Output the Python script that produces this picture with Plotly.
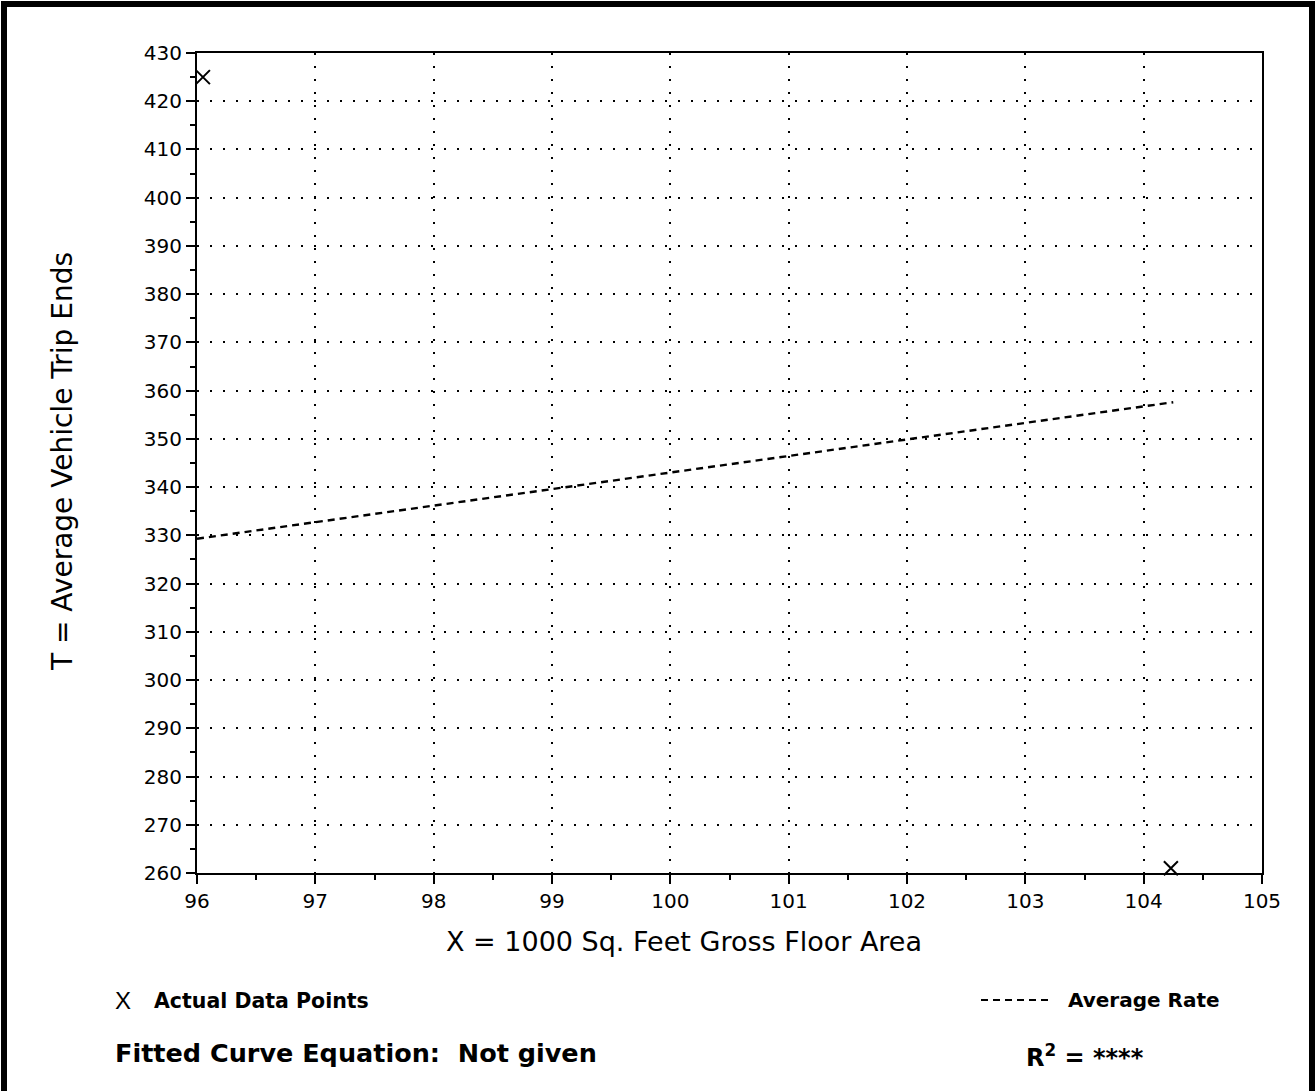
import plotly.graph_objects as go

# Observed sites: building size (1000 sq ft GFA) and daily trip ends
site_area = [96.05, 104.23]
site_trips = [425, 261]

# Average-rate line endpoints (trip ends vs. floor area)
rate_x = [96.0, 104.25]
rate_y = [329.3, 357.6]

x_ticks = [96, 97, 98, 99, 100, 101, 102, 103, 104, 105]
y_ticks = list(range(260, 431, 10))

FONT = "DejaVu Sans"
W, H = 1316, 1091
ML, MR, MT, MB = 197, 54, 53, 218
PW, PH = W - ML - MR, H - MT - MB


def px(x):
    return (x - ML) / PW


def py(y):
    return (H - MB - y) / PH


fig = go.Figure()

fig.add_trace(go.Scatter(
    x=rate_x, y=rate_y, mode="lines",
    line=dict(color="black", width=2.4, dash="7px,5px"),
    hoverinfo="skip",
))

fig.add_trace(go.Scatter(
    x=site_area, y=site_trips, mode="markers",
    marker=dict(symbol="x-thin", size=14, line=dict(color="black", width=2)),
    cliponaxis=False,
))

axis_common = dict(
    showline=True, linewidth=2, linecolor="black", mirror=True,
    ticks="outside", ticklen=9, tickwidth=2, tickcolor="black",
    showgrid=True, gridcolor="black", gridwidth=2, griddash="2px,11px",
    zeroline=False,
    tickfont=dict(family=FONT, size=20, color="black"),
)

fig.update_xaxes(
    range=[96, 105], tickmode="array", tickvals=x_ticks,
    ticktext=[str(v) for v in x_ticks],
    minor=dict(dtick=0.5, tick0=96, ticks="outside", ticklen=5,
               tickwidth=2, tickcolor="black", showgrid=False),
    **axis_common,
)
fig.update_yaxes(
    range=[260, 430], tickmode="array", tickvals=y_ticks,
    ticktext=[str(v) for v in y_ticks],
    minor=dict(dtick=5, tick0=260, ticks="outside", ticklen=5,
               tickwidth=2, tickcolor="black", showgrid=False),
    **axis_common,
)

# Page frame
fig.add_shape(type="rect", xref="paper", yref="paper",
              x0=px(4), x1=px(1312), y0=py(1110), y1=py(4),
              line=dict(color="black", width=6), layer="above")

# Legend sample for the average-rate line
fig.add_shape(type="line", xref="paper", yref="paper",
              x0=px(981), x1=px(1051), y0=py(1000), y1=py(1000),
              line=dict(color="black", width=2, dash="7px,5px"))

annotations = [
    dict(text="X = 1000 Sq. Feet Gross Floor Area", x=px(684), y=py(941),
         xanchor="center", yanchor="middle", font=dict(size=27)),
    dict(text="T = Average Vehicle Trip Ends", x=px(62), y=py(462),
         xanchor="center", yanchor="middle", textangle=-90, font=dict(size=28)),
    dict(text="X", x=px(123), y=py(1001), xanchor="center", yanchor="middle",
         font=dict(family="Liberation Sans", size=24)),
    dict(text="<b>Actual Data Points</b>", x=px(152), y=py(1001),
         xanchor="left", yanchor="middle", font=dict(size=20.5)),
    dict(text="<b>Average Rate</b>", x=px(1066), y=py(1000),
         xanchor="left", yanchor="middle", font=dict(size=20)),
    dict(text="<b>Fitted Curve Equation:\u00a0\u00a0Not given</b>", x=px(113), y=py(1053),
         xanchor="left", yanchor="middle", font=dict(size=25.5)),
    dict(text="<b>R<sup>2</sup> = ****</b>", x=px(1024), y=py(1056),
         xanchor="left", yanchor="middle", font=dict(size=24)),
]
for a in annotations:
    a.setdefault("font", {})
    a["font"].setdefault("family", FONT)
    a["font"]["color"] = "black"
    fig.add_annotation(xref="paper", yref="paper", showarrow=False, **a)

fig.update_layout(
    width=W, height=H,
    margin=dict(l=ML, r=MR, t=MT, b=MB),
    paper_bgcolor="white", plot_bgcolor="white",
    showlegend=False,
    font=dict(family=FONT, color="black"),
)

fig.write_html("out.html")
